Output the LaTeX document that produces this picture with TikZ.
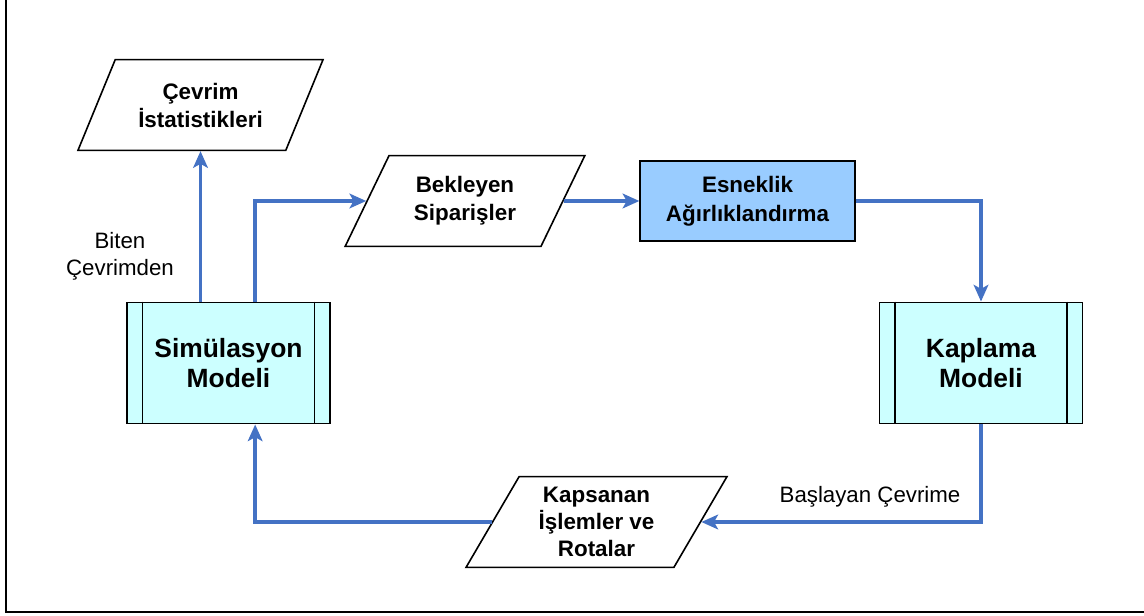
\documentclass[tikz,border=0pt]{standalone}
\usepackage{fontspec}
\setmainfont{Liberation Sans}
\usetikzlibrary{shapes.geometric, arrows.meta, positioning, calc}
\definecolor{flow}{RGB}{68,114,196}
\definecolor{model}{RGB}{204,255,255}
\definecolor{weight}{RGB}{153,204,255}

\begin{document}
\begin{tikzpicture}[
    x=0.75pt, y=-0.75pt,
    proc/.style={rectangle, draw=black, line width=1.2pt, fill=model,
                 minimum width=152pt, minimum height=91pt,
                 font=\bfseries\fontsize{19.8}{22.5}\selectfont, align=center},
    box/.style={rectangle, draw=black, line width=1.2pt, fill=weight,
                minimum width=161pt, minimum height=60pt,
                font=\bfseries\fontsize{16.8}{22}\selectfont, align=center},
    io/.style={trapezium, trapezium left angle=63, trapezium right angle=117,
               trapezium stretches=true, draw=black, line width=1.2pt, fill=white,
               minimum height=68pt, inner xsep=0pt,
               font=\bfseries\fontsize{16.8}{21}\selectfont, align=center},
    lbl/.style={font=\fontsize{16.7}{20}\selectfont, align=center},
    arr/.style={-{Stealth[length=12.5pt, width=11pt, inset=3pt]}, line width=2.8pt, draw=flow}
  ]
  \useasboundingbox (0,0) rectangle (1144,616);
  \draw[line width=1.1pt] (6,0) -- (6,612) -- (1144,612);

  % nodes
  \node[io, minimum width=184pt] (ist) at (200.5,105) {Çevrim\\İstatistikleri};
  \node[io, minimum width=180pt] (bek) at (465,201) {Bekleyen\\Siparişler};
  \node[box] (esn) at (747.5,201) {Esneklik\\Ağırlıklandırma};
  \node[proc] (sim) at (228.5,363) {Simülasyon\\Modeli};
  \node[proc] (kap) at (981,363) {Kaplama\\Modeli};
  \node[io, minimum width=196pt, font=\bfseries\fontsize{16.8}{20}\selectfont]
    (kps) at (596.5,522) {Kapsanan\\İşlemler ve\\Rotalar};

  % side bars of the model boxes
  \foreach \m in {sim, kap} {
    \draw[line width=1.2pt] ([xshift=12pt]\m.north west) -- ([xshift=12pt]\m.south west);
    \draw[line width=1.2pt] ([xshift=-12pt]\m.north east) -- ([xshift=-12pt]\m.south east);
  }

  \node[lbl] (biten) at (120,256) {Biten\\Çevrimden};
  \node[lbl] (basl) at (870,497) {Başlayan Çevrime};

  % connectors
  \draw[arr] (sim.north -| ist.south) -- (ist.south);
  \draw[arr] ([xshift=20pt]sim.north) |- (bek.west);
  \draw[arr] (bek.east) -- (esn.west);
  \draw[arr] (esn.east) -| (kap.north);
  \draw[arr] (kap.south) |- (kps.east);
  \draw[arr] (kps.west) -| ([xshift=20pt]sim.south);
\end{tikzpicture}
\end{document}
